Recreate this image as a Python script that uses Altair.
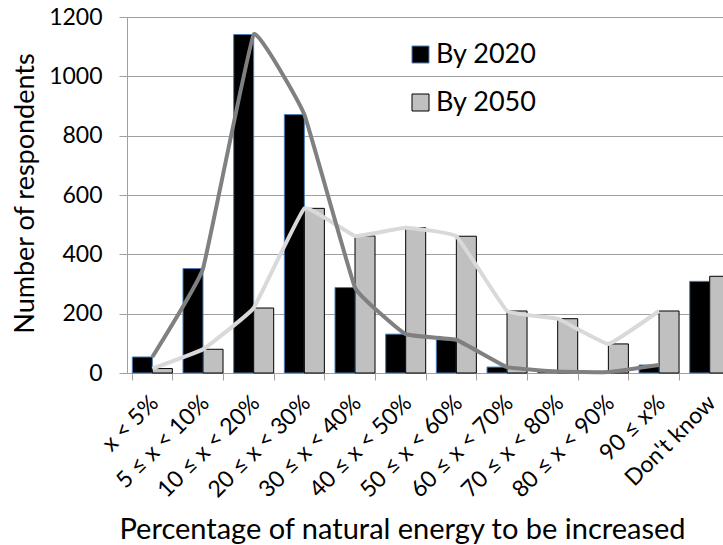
import altair as alt
import pandas as pd

# Survey answers: share of natural energy to be increased, by target year
categories = [
    "x < 5%", "5 ≤ x < 10%", "10 ≤ x < 20%", "20 ≤ x < 30%", "30 ≤ x < 40%",
    "40 ≤ x < 50%", "50 ≤ x < 60%", "60 ≤ x < 70%", "70 ≤ x < 80%",
    "80 ≤ x < 90%", "90 ≤ x%", "Don't know",
]
by_2020 = [54, 352, 1141, 871, 288, 131, 112, 20, 5, 3, 27, 309]
by_2050 = [15, 80, 219, 555, 462, 490, 461, 209, 183, 98, 209, 326]
series_names = ["By 2020", "By 2050"]
y_ticks = [0, 200, 400, 600, 800, 1000, 1200]

rows = []
for i, (cat, a, b) in enumerate(zip(categories, by_2020, by_2050)):
    rows.append({"idx": i, "category": cat, "series": "By 2020", "value": a})
    rows.append({"idx": i, "category": cat, "series": "By 2050", "value": b})
df = pd.DataFrame(rows)

FONT = "Lato"
GRID = "#a0a0a0"
STEP = 50.67
RANGE_W = STEP * len(categories)

x_scale = alt.Scale(domain=categories, range=[0, RANGE_W],
                    paddingInner=0.21, paddingOuter=0.105)
y_scale = alt.Scale(domain=[0, 1200], nice=False)

x_axis = alt.Axis(
    title="Percentage of natural energy to be increased",
    labelAngle=-45, labelAlign="right", labelBaseline="middle",
    labelFont=FONT, labelFontSize=23, labelColor="black",
    labelPadding=19, labelOffset=2, labelOverlap=False,
    tickBand="extent", tickSize=7, tickColor=GRID, domainColor=GRID,
    grid=False,
    titleFont=FONT, titleFontSize=29, titleFontWeight="normal",
    titleColor="black", titleX=275, titleY=165, titleBaseline="alphabetic",
    titleAlign="center",
)
y_axis = alt.Axis(
    title="Number of respondents", values=y_ticks, format="d",
    grid=True, gridColor=GRID, domainColor=GRID, tickColor=GRID, tickSize=8,
    labelFont=FONT, labelFontSize=23, labelColor="black", labelPadding=17,
    titleFont=FONT, titleFontSize=27, titleFontWeight="normal",
    titleColor="black", titleX=-102, titleY=176, titleBaseline="middle",
    titleAngle=-90, titleAlign="center",
)

legend = alt.Legend(
    title=None, orient="none", legendX=280, legendY=24, direction="vertical",
    symbolType="square", symbolSize=289, symbolStrokeWidth=1,
    labelFont=FONT, labelFontSize=27, labelColor="black", labelOffset=2,
    rowPadding=20, padding=0,
)

bars = alt.Chart(df).mark_bar(strokeWidth=1).encode(
    x=alt.X("category:N", scale=x_scale, axis=x_axis, sort=None),
    xOffset=alt.XOffset("series:N", scale=alt.Scale(domain=series_names,
                                                    paddingInner=0, paddingOuter=0)),
    y=alt.Y("value:Q", scale=y_scale, axis=y_axis),
    fill=alt.Fill("series:N", scale=alt.Scale(domain=series_names,
                                              range=["#000000", "#c0c0c0"]),
                  legend=legend),
    stroke=alt.Stroke("series:N", scale=alt.Scale(domain=series_names,
                                                  range=["#4a7ebb", "#000000"]),
                      legend=legend),
)


def trend(series, color):
    return alt.Chart(df).transform_filter(
        (alt.datum.series == series) & (alt.datum.category != "Don't know")
    ).mark_line(color=color, strokeWidth=4, interpolate="cardinal",
                tension=0.75).encode(
        x=alt.X("category:N", scale=x_scale, sort=None),
        y=alt.Y("value:Q", scale=y_scale),
        order=alt.Order("idx:Q"),
    )


chart = alt.layer(
    bars,
    trend("By 2050", "#d9d9d9"),
    trend("By 2020", "#808080"),
).properties(
    width=596, height=356,
    autosize=alt.AutoSizeParams(type="none"),
    padding={"left": 127, "top": 17, "right": 0, "bottom": 172},
).configure_view(stroke=None)

chart.save("out.html", embed_options={"renderer": "svg", "actions": False})
